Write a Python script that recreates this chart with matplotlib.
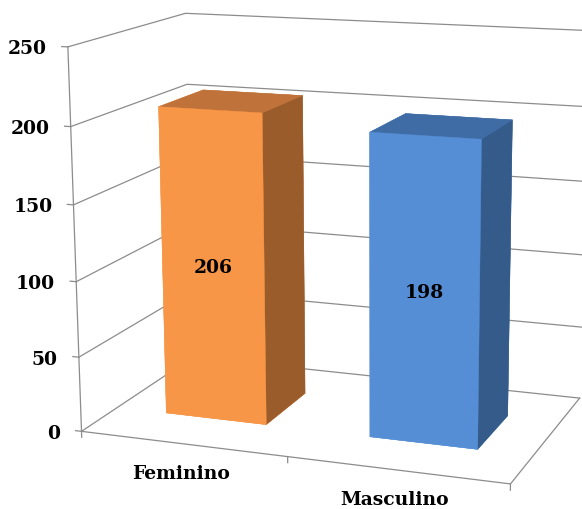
import numpy as np
import matplotlib
matplotlib.use("Agg")
import matplotlib.pyplot as plt
from mpl_toolkits.mplot3d import proj3d

categories = ["Feminino", "Masculino"]
values = [206, 198]
ticks = [0, 50, 100, 150, 200, 250]

# front, top, side shades for each column
front_colors = ["#F79646", "#558ED5"]
top_colors = ["#BF7239", "#3F6CA5"]
side_colors = ["#9A5C2B", "#345B89"]

W, H = 582, 510
fig = plt.figure(figsize=(W / 100, H / 100), dpi=100, facecolor="white")
# camera and box set up like the Excel 3-D column chart
ax = fig.add_axes([13.3 / W, -43.83 / H, 627.54 / W, 627.54 / H],
                  projection="3d", computed_zorder=False)
ax.set_xlim(0, len(categories))
ax.set_ylim(0, 1)
ax.set_zlim(0, ticks[-1])
ax.view_init(elev=13.3, azim=-69.61, roll=0.27)
ax.set_proj_type("persp", focal_length=0.592)
ax.set_box_aspect((1.1468, 0.6997, 1))
ax.set_axis_off()

grid = dict(color="#8C8C8C", lw=0.9, zorder=1)
label = dict(fontsize=13.5, fontweight="bold", family="DejaVu Serif",
             textcoords="offset pixels", zorder=3)
nx = len(categories)
M = ax.get_proj()


def to2d(x, y, z):
    u, v, _ = proj3d.proj_transform(x, y, z, M)
    return u, v


# gridlines on the side wall and back wall
for t in ticks:
    ax.plot([0, 0, nx], [0, 1, 1], [t, t, t], **grid)

# front edge of the side wall, value ticks and labels
ax.plot([0, 0], [0, 0], [0, ticks[-1]], **grid)
for t in ticks:
    ax.plot([-0.03, 0], [0, 0], [t, t], **grid)
    ax.annotate(str(t), to2d(0, 0, t), xytext=(-21, -1.5),
                ha="right", va="center", **label)

# floor front and right edges, category ticks
ax.plot([0, nx, nx], [0, 0, 1], [0, 0, 0], **grid)
for i in range(nx + 1):
    ax.plot([i, i], [0, 0], [0, -4], **grid)

# columns
width, depth = 0.5, 0.4
xs = np.arange(nx) + 0.5 - width / 2
ys = np.full(nx, 0.5 - depth / 2)
facecolors = []
for f, t, s in zip(front_colors, top_colors, side_colors):
    # face order in bar3d: -z, +z, -y, +y, -x, +x
    facecolors += [f, t, f, t, f, s]
ax.bar3d(xs, ys, np.zeros(nx), width, depth, values, color=facecolors,
         edgecolor=facecolors, linewidth=0.3, shade=False, zorder=2)

for i, v in enumerate(values):
    ax.annotate(str(v), to2d(i + 0.5, 0.5 - depth / 2, v / 2), xytext=(0, 0),
                ha="center", va="center", **label)
    ax.annotate(categories[i], to2d(i + 0.5, 0, 0), xytext=(-2, -29),
                ha="center", va="center", **label)

fig.savefig("out.png", dpi=100, facecolor="white")
